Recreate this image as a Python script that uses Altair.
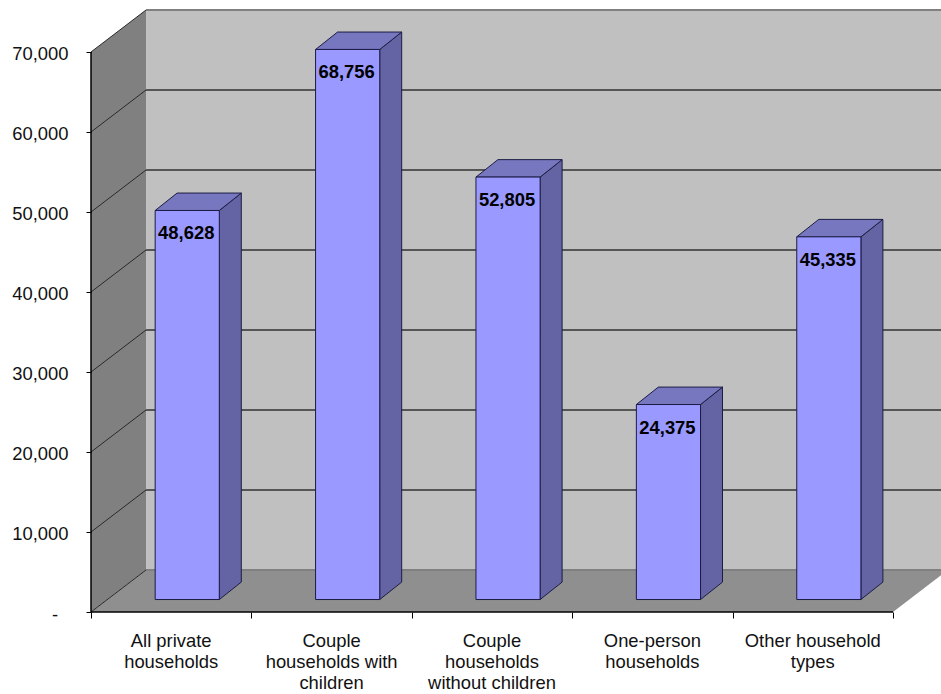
import altair as alt
import pandas as pd

# Household types and their values
categories = [
    "All private\nhouseholds",
    "Couple\nhouseholds with\nchildren",
    "Couple\nhouseholds\nwithout children",
    "One-person\nhouseholds",
    "Other household\ntypes",
]
values = [48628, 68756, 52805, 24375, 45335]
labels = ["48,628", "68,756", "52,805", "24,375", "45,335"]
y_ticks = [0, 10000, 20000, 30000, 40000, 50000, 60000, 70000]
x_ticks = [0, 1, 2, 3, 4, 5]

# Oblique projection, in axis units (categories across, value units up)
WALL_DX, WALL_DY = 0.343, 5250
BAR_DX, BAR_DY = 0.137, 2180
BAR_SHIFT_X, BAR_SHIFT_Y = 0.4, 1560
BAR_W = 0.4
TOP = 70000
N = len(categories)

FONT = "Liberation Sans"
xs = alt.Scale(domain=[0, N], nice=False, zero=False)
ys = alt.Scale(domain=[0, TOP], nice=False, zero=False)


def X(**kw):
    return alt.X("x:Q", scale=xs, title=None, **kw)


def Y(**kw):
    return alt.Y("y:Q", scale=ys, title=None, **kw)


x2 = alt.X2("x2:Q")
y2 = alt.Y2("y2:Q")

# Axes only, kept above the walls
axes = (
    alt.Chart(pd.DataFrame({"x": [0], "y": [0]}))
    .mark_point(opacity=0)
    .encode(
        x=X(axis=alt.Axis(values=x_ticks, labels=False, grid=False, domain=False,
                          tickColor="#000000", tickSize=6, zindex=2)),
        y=Y(axis=alt.Axis(values=y_ticks, grid=False, domain=False,
                          tickColor="#000000", tickSize=5,
                          labelPadding=18, labelOffset=1,
                          labelFont=FONT, labelFontSize=18.4, labelColor="#111111",
                          labelExpr="datum.value === 0 ? '' : format(datum.value, ',')",
                          zindex=2)),
    )
)

# Room walls and floor
left_wall = (
    alt.Chart(pd.DataFrame({"x": [0, WALL_DX], "y": [0, WALL_DY],
                            "y2": [TOP, TOP + WALL_DY]}))
    .mark_area(color="#808080", interpolate="linear")
    .encode(x=X(), y=Y(), y2=y2)
)
back_wall = (
    alt.Chart(pd.DataFrame({"x": [WALL_DX], "x2": [N + WALL_DX], "y": [WALL_DY],
                            "y2": [TOP + WALL_DY]}))
    .mark_rect(color="#C0C0C0")
    .encode(x=X(), x2=x2, y=Y(), y2=y2)
)
floor = (
    alt.Chart(pd.DataFrame({"y": [0, WALL_DY], "x": [0, WALL_DX], "x2": [N, N + WALL_DX]}))
    .mark_area(color="#8F8F8F", orient="horizontal", interpolate="linear")
    .encode(x=X(), x2=x2, y=Y())
)

# Gridlines: flat along the back wall, oblique along the left wall
back_grid = (
    alt.Chart(pd.DataFrame({"x": [WALL_DX] * len(y_ticks),
                            "x2": [N + WALL_DX] * len(y_ticks),
                            "y": [t + WALL_DY for t in y_ticks],
                            "tick": y_ticks}))
    .mark_rule(strokeWidth=2)
    .encode(
        x=X(), x2=x2, y=Y(),
        color=alt.condition(alt.datum.tick % 70000 == 0, alt.value("#808080"), alt.value("#555555")),
    )
)
side_rows = []
for t in y_ticks:
    side_rows.append({"x": 0, "y": t, "tick": t})
    side_rows.append({"x": WALL_DX, "y": t + WALL_DY, "tick": t})
side_grid = (
    alt.Chart(pd.DataFrame(side_rows))
    .mark_line(color="#2a2a2a", strokeWidth=1, interpolate="linear")
    .encode(x=X(), y=Y(), detail="tick:N")
)

# Front edges of the room, heavier than the gridlines
x_line = (
    alt.Chart(pd.DataFrame({"x": [0], "x2": [N], "y": [0]}))
    .mark_rule(color="#000000", strokeWidth=1.5)
    .encode(x=X(), x2=x2, y=Y())
)
y_line = (
    alt.Chart(pd.DataFrame({"x": [0], "y": [0], "y2": [TOP]}))
    .mark_rule(color="#000000", strokeWidth=1.5)
    .encode(x=X(), y=Y(), y2=y2)
)
# The zero tick reads as a dash in the accounting number format
zero_label = (
    alt.Chart(pd.DataFrame({"x": [0], "y": [0], "label": ["-"]}))
    .mark_text(font=FONT, fontSize=18.4, color="#111111", baseline="middle", dx=-36, dy=3)
    .encode(x=X(), y=Y(), text="label:N")
)

# Each column: front face, right side and top, all derived from its value
front_rows, side_rows, top_rows, label_rows, cat_rows = [], [], [], [], []
for i, (cat, val, lab) in enumerate(zip(categories, values, labels)):
    x0 = i + BAR_SHIFT_X
    x1 = x0 + BAR_W
    base = BAR_SHIFT_Y
    top = base + val
    front_rows.append({"x": x0, "x2": x1, "y": base, "y2": top})
    side_rows.append({"bar": i, "x": x1, "y": base, "y2": top})
    side_rows.append({"bar": i, "x": x1 + BAR_DX, "y": base + BAR_DY, "y2": top + BAR_DY})
    top_rows.append({"bar": i, "y": top, "x": x0, "x2": x1})
    top_rows.append({"bar": i, "y": top + BAR_DY, "x": x0 + BAR_DX, "x2": x1 + BAR_DX})
    label_rows.append({"x": (x0 + x1) / 2, "y": top, "label": lab})
    cat_rows.append({"x": i + 0.5, "y": 0, "label": cat})

EDGE = "#1c1c44"
bar_side = (
    alt.Chart(pd.DataFrame(side_rows))
    .mark_area(color="#6464A4", stroke=EDGE, strokeWidth=1, interpolate="linear")
    .encode(x=X(), y=Y(), y2=y2, detail="bar:N")
)
bar_top = (
    alt.Chart(pd.DataFrame(top_rows))
    .mark_area(color="#7777C0", stroke=EDGE, strokeWidth=1, orient="horizontal", interpolate="linear")
    .encode(x=X(), x2=x2, y=Y(), detail="bar:N")
)
bar_front = (
    alt.Chart(pd.DataFrame(front_rows))
    .mark_rect(color="#9999FF", stroke=EDGE, strokeWidth=1)
    .encode(x=X(), x2=x2, y=Y(), y2=y2)
)
bar_labels = (
    alt.Chart(pd.DataFrame(label_rows))
    .mark_text(font=FONT, fontSize=18.4, fontWeight="bold", color="#000000", baseline="middle", dy=23, dx=-1)
    .encode(x=X(), y=Y(), text="label:N")
)
category_labels = (
    alt.Chart(pd.DataFrame(cat_rows))
    .mark_text(font=FONT, fontSize=18.4, color="#111111", baseline="top", lineBreak="\n",
               lineHeight=21, dy=20)
    .encode(x=X(), y=Y(), text="label:N")
)

chart = (
    alt.layer(left_wall, back_wall, floor, back_grid, side_grid, x_line, y_line, axes,
              bar_side, bar_top, bar_front, zero_label, bar_labels, category_labels)
    .properties(
        width=802,
        height=560,
        background="#FFFFFF",
        autosize=alt.AutoSizeParams(type="none"),
        padding={"left": 91, "right": 48, "top": 52, "bottom": 82},
    )
    .configure_view(stroke=None)
)

chart.save("out.html", embed_options={"renderer": "svg", "actions": False})
